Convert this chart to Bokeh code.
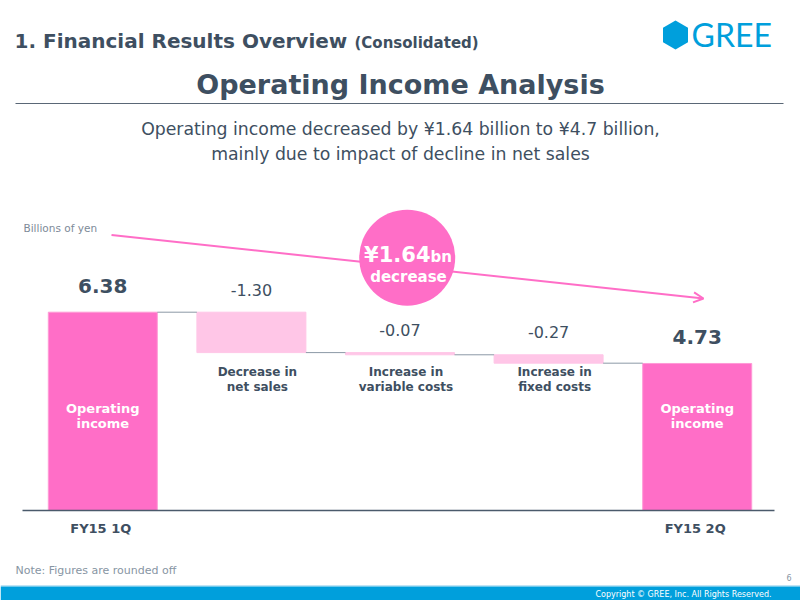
from bokeh.plotting import figure
from bokeh.models import (Range1d, ColumnDataSource, LabelSet, Arrow, OpenHead)
from bokeh.core.properties import value
from bokeh.embed import file_html
from bokeh.resources import INLINE

# ---------------- data ----------------
categories = ["FY15 1Q", "Decrease in\nnet sales", "Increase in\nvariable costs",
              "Increase in\nfixed costs", "FY15 2Q"]
kinds = ["total", "delta", "delta", "delta", "total"]
values = [6.38, -1.30, -0.07, -0.27, 4.73]
value_labels = ["6.38", "-1.30", "-0.07", "-0.27", "4.73"]
total_bar_text = "Operating\nincome"
unit_label = "Billions of yen"
callout_amount = "¥1.64"
callout_unit = "bn"
callout_word = "decrease"

# ---------------- styles ----------------
PINK = "#FF6EC7"
LIGHT_PINK = "#FFC6E7"
SLATE = "#3E4F61"
GRAY = "#8795A3"
BLUE = "#009FDC"
FONT = "DejaVu Sans"

# ---------------- waterfall geometry from data ----------------
xs = list(range(len(categories)))
bottoms, tops, levels = [], [], []
running = 0.0
for k, v in zip(kinds, values):
    if k == "total":
        bottoms.append(0.0)
        tops.append(v)
        running = v
    else:
        bottoms.append(running + v)
        tops.append(running)
        running = running + v
    levels.append(running)

BAR_W = 0.7335
colors = [PINK if k == "total" else LIGHT_PINK for k in kinds]
edge = ["#FF9AD6" if k == "total" else LIGHT_PINK for k in kinds]

p = figure(width=800, height=600,
           x_range=Range1d(-0.6884, 4.6951), y_range=Range1d(-2.896, 16.409),
           x_axis_type=None, y_axis_type=None, toolbar_location=None,
           output_backend="svg", min_border=0, outline_line_color=None)
p.extra_x_ranges = {"px": Range1d(0, 800)}
p.extra_y_ranges = {"px": Range1d(600, 0)}
p.background_fill_color = "white"
p.border_fill_color = "white"


def txt(x, y, s, size, color, bold=False, align="left", font=FONT):
    s_src = ColumnDataSource(dict(x=[x], y=[y], t=[s]))
    p.add_layout(LabelSet(x="x", y="y", text="t", source=s_src,
                          x_range_name="px", y_range_name="px",
                          text_font=value(font), text_font_size=f"{size}px",
                          text_font_style="bold" if bold else "normal",
                          text_color=color, text_align=align,
                          text_baseline="alphabetic"))


# ---------------- header ----------------
txt(14, 47, "1. Financial Results Overview", 20, SLATE, bold=True)
txt(354, 47, "(Consolidated)", 15, SLATE, bold=True)
# logo
p.patch(x=[675, 687.5, 687.5, 675, 662.5, 662.5], y=[20, 27.3, 41.7, 49, 41.7, 27.3],
        x_range_name="px", y_range_name="px", fill_color=BLUE, line_color=None)
txt(691, 46.5, "GREE", 32, BLUE, font="Lato")

txt(400, 93, "Operating Income Analysis", 27, SLATE, bold=True, align="center")
p.segment(x0=[15], y0=[103], x1=[783], y1=[103], x_range_name="px", y_range_name="px",
          line_color="#5A6776", line_width=1)

txt(400, 134.5, "Operating income decreased by ¥1.64 billion to ¥4.7 billion,", 17.3, SLATE,
    align="center")
txt(400, 159.5, "mainly due to impact of decline in net sales", 17.3, SLATE, align="center")

txt(23, 231, unit_label, 10.5, "#7D8A98")

# ---------------- arrow + callout ----------------
p.add_layout(Arrow(x_start=111, y_start=234.5, x_end=703, y_end=298,
                   x_range_name="px", y_range_name="px", level="underlay",
                   line_color=PINK, line_width=2,
                   end=OpenHead(size=10, line_color=PINK, line_width=2)))
p.scatter(x=[406.7], y=[257.2], size=96, marker="circle", fill_color=PINK,
          line_color=None, x_range_name="px", y_range_name="px")
txt(430, 261, callout_amount, 21, "white", bold=True, align="right")
txt(430, 261, callout_unit, 15, "white", bold=True, align="left")
txt(408, 281, callout_word, 15, "white", bold=True, align="center")

# ---------------- bars ----------------
src = ColumnDataSource(dict(x=xs, bottom=bottoms, top=tops, color=colors, edge=edge))
p.vbar(x="x", bottom="bottom", top="top", width=BAR_W, fill_color="color",
       line_color="edge", line_width=1, source=src)

# connectors
p.segment(x0=[i + BAR_W / 2 for i in xs[:-1]], y0=levels[:-1],
          x1=[i + 1 - BAR_W / 2 for i in xs[:-1]], y1=levels[:-1],
          line_color="#8C99A6", line_width=1)

# baseline
p.segment(x0=[22], y0=[0], x1=[774], y1=[0], x_range_name="px",
          line_color="#4A5A6B", line_width=1.5)

# value labels
tot_idx = [i for i, k in enumerate(kinds) if k == "total"]
del_idx = [i for i, k in enumerate(kinds) if k == "delta"]

tot_src = ColumnDataSource(dict(x=[xs[i] for i in tot_idx], y=[tops[i] for i in tot_idx],
                                t=[value_labels[i] for i in tot_idx],
                                cat=[categories[i] for i in tot_idx],
                                l1=[total_bar_text.split("\n")[0]] * len(tot_idx),
                                l2=[total_bar_text.split("\n")[1]] * len(tot_idx)))
del_src = ColumnDataSource(dict(x=[xs[i] for i in del_idx], y=[tops[i] for i in del_idx],
                                t=[value_labels[i] for i in del_idx],
                                l1=[categories[i].split("\n")[0] for i in del_idx],
                                l2=[categories[i].split("\n")[1] for i in del_idx]))

p.add_layout(LabelSet(x="x", y="y", text="t", source=tot_src, y_offset=19.5,
                      text_align="center", text_baseline="alphabetic",
                      text_font=value(FONT), text_font_size="20px",
                      text_font_style="bold", text_color=SLATE))
p.add_layout(LabelSet(x="x", y="y", text="t", source=del_src, y_offset=16.5,
                      text_align="center", text_baseline="alphabetic",
                      text_font=value(FONT), text_font_size="16px",
                      text_color=SLATE))


def labelset(source, col, yy, size, color, x_off=0):
    p.add_layout(LabelSet(x="x", y=yy, text=col, source=source, y_range_name="px",
                          x_offset=x_off, text_align="center",
                          text_baseline="alphabetic", text_font=value(FONT),
                          text_font_size=f"{size}px", text_font_style="bold",
                          text_color=color))


# category labels under delta bars
labelset(del_src, "l1", 375.7, 12, SLATE, x_off=6)
labelset(del_src, "l2", 390, 12, SLATE, x_off=6)
# white labels inside total bars
labelset(tot_src, "l1", 412, 13, "white")
labelset(tot_src, "l2", 427, 13, "white")
# period labels
labelset(tot_src, "cat", 532, 13, SLATE, x_off=-2)

# ---------------- footer ----------------
txt(15, 573, "Note: Figures are rounded off", 11, GRAY)
txt(791, 580.5, "6", 8, GRAY, align="right")
p.quad(left=[0], right=[800], top=[584.5], bottom=[586], x_range_name="px",
       y_range_name="px", fill_color="#BFE4F5", line_color=None)
p.quad(left=[0], right=[800], top=[586], bottom=[600], x_range_name="px",
       y_range_name="px", fill_color=BLUE, line_color=None)
txt(771, 596, "Copyright © GREE, Inc. All Rights Reserved.", 8, "white", align="right")

open("out.html", "w").write(file_html(p, INLINE))
